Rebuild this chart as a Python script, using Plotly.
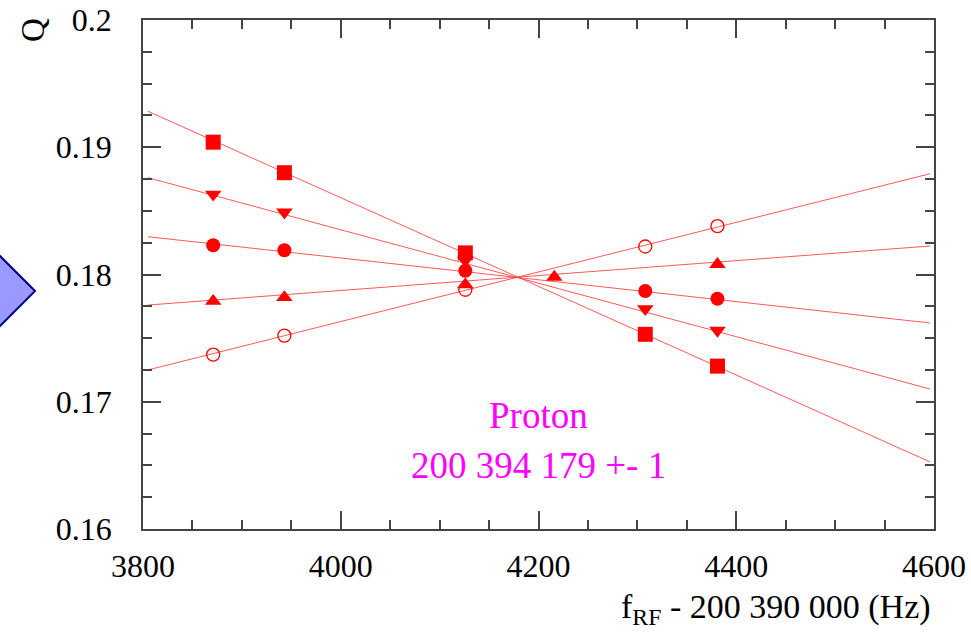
import plotly.graph_objects as go

# ---- data ----
x_main = [3871, 3943, 4126, 4308, 4381]
x_up = [3871, 3943, 4126, 4216, 4381]

sq_y = [0.1904, 0.1880, 0.1817, 0.1753, 0.1728]
dn_y = [0.1863, 0.1849, 0.1811, 0.1773, 0.1756]
ci_y = [0.1823, 0.1819, 0.1803, 0.1787, 0.1781]
up_y = [0.1779, 0.1782, 0.1792, 0.1798, 0.1808]
oc_y = [0.1737, 0.1752, 0.1788, 0.1822, 0.1838]

fit_x = [3805, 4596]
sq_fit = [0.19283, 0.16527]
dn_fit = [0.18761, 0.17100]
ci_fit = [0.18297, 0.17619]
up_fit = [0.17760, 0.18224]
oc_fit = [0.17250, 0.18792]

x_ticks = [3800, 4000, 4200, 4400, 4600]
y_ticks = [0.16, 0.17, 0.18, 0.19, 0.2]

RED = "#FF0000"
LINE = "rgba(255,60,60,0.85)"
FONT = "Liberation Serif"

fig = go.Figure()

for fy in [sq_fit, dn_fit, ci_fit, up_fit, oc_fit]:
    fig.add_trace(go.Scatter(x=fit_x, y=fy, mode="lines",
                             line=dict(color=LINE, width=1), hoverinfo="skip"))

series = [
    (x_main, sq_y, "square", 15),
    (x_main, dn_y, "triangle-down", 14.5),
    (x_main, ci_y, "circle", 14),
    (x_up, up_y, "triangle-up", 14.5),
]
for xs, ys, sym, sz in series:
    fig.add_trace(go.Scatter(x=xs, y=ys, mode="markers",
                             marker=dict(symbol=sym, size=sz, color=RED,
                                         line=dict(width=0))))
fig.add_trace(go.Scatter(x=x_main, y=oc_y, mode="markers",
                         marker=dict(symbol="circle-open", size=13, color=RED,
                                     line=dict(width=1.3, color=RED))))

axis_common = dict(showline=True, linecolor="#444", linewidth=1.5, mirror="ticks",
                   ticks="inside", ticklen=18, tickwidth=1.5, tickcolor="#444",
                   showgrid=False, zeroline=False, automargin=False,
                   tickfont=dict(family=FONT, size=32, color="black"))

fig.update_xaxes(range=[3800, 4600], tickvals=x_ticks,
                 minor=dict(dtick=50, ticks="inside", ticklen=9, tickwidth=1.5,
                            tickcolor="#444", showgrid=False),
                 ticklabelstandoff=8, **axis_common)
fig.update_yaxes(range=[0.16, 0.2], tickvals=y_ticks,
                 minor=dict(dtick=0.0025, ticks="inside", ticklen=9, tickwidth=1.5,
                            tickcolor="#444", showgrid=False),
                 ticklabelstandoff=23, **axis_common)

# blue diamond partially visible on the left edge (pixel -> paper)
L, R, T, B = 143, 934, 20, 529
def px(x):
    return (x - L) / (R - L)
def py(y):
    return (B - y) / (B - T)
pts = [(35, 291), (-2, 254), (-39, 291), (-2, 328)]
path = "M " + " L ".join(f"{px(a):.4f},{py(b):.4f}" for a, b in pts) + " Z"
fig.add_shape(type="path", xref="paper", yref="paper", path=path,
              fillcolor="#9999FF", line=dict(color="#000080", width=2), layer="above")

fig.add_annotation(xref="paper", yref="paper", x=px(933), y=py(609), xanchor="right",
                   yanchor="middle", showarrow=False,
                   text="f<sub>RF</sub> - 200 390 000 (Hz)",
                   font=dict(family=FONT, size=34, color="black"))
fig.add_annotation(xref="paper", yref="paper", x=px(33), y=py(30), xanchor="center",
                   yanchor="middle", showarrow=False, textangle=-90, text="Q",
                   font=dict(family=FONT, size=33, color="black"))
fig.add_annotation(xref="paper", yref="paper", x=px(538), y=py(415), xanchor="center",
                   yanchor="middle", showarrow=False, text="Proton",
                   font=dict(family=FONT, size=37, color="#FF00FF"))
fig.add_annotation(xref="paper", yref="paper", x=px(538), y=py(465), xanchor="center",
                   yanchor="middle", showarrow=False, text="200 394 179 +- 1",
                   font=dict(family=FONT, size=37, color="#FF00FF"))

fig.update_layout(width=971, height=634, showlegend=False,
                  margin=dict(l=L, r=971 - R, t=T, b=634 - B, pad=0),
                  plot_bgcolor="white", paper_bgcolor="white")

fig.write_html("out.html", config={"displayModeBar": False},
               post_script="document.body.style.margin='0';document.body.style.overflow='hidden';")
